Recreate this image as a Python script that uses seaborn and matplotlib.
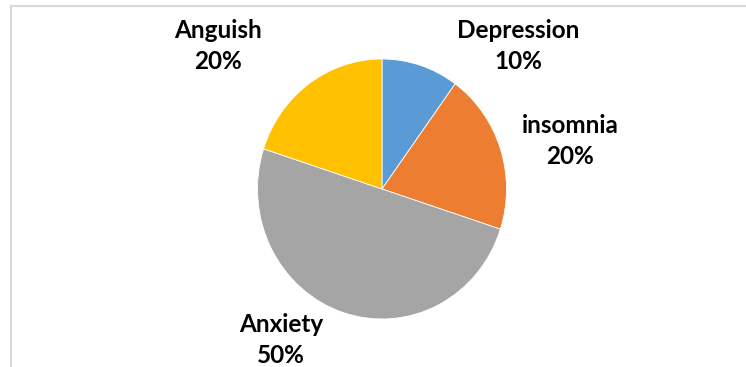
import matplotlib
matplotlib.use("Agg")
import matplotlib.pyplot as plt
import seaborn as sns
from matplotlib.patches import Rectangle

categories = ["Depression", "insomnia", "Anxiety", "Anguish"]
values = [10, 20, 50, 20]
colors = ["#5B9BD5", "#ED7D31", "#A5A5A5", "#FFC000"]

sns.set_theme(style="white")
plt.rcParams["font.family"] = ["Lato", "DejaVu Sans"]

W, H = 746, 367
fig = plt.figure(figsize=(W / 100, H / 100), dpi=100)
fig.patch.set_facecolor("white")

# frame (cropped chart area border)
fig.add_artist(Rectangle((11 / W, -0.1), 1.2, (H - 6) / H + 0.1, transform=fig.transFigure,
                         fill=False, edgecolor="#D9D9D9", linewidth=1.5))

cx, cy = 382, 189
rx, ry = 124.5, 130
ax = fig.add_axes([(cx - rx) / W, (H - cy - ry) / H, 2 * rx / W, 2 * ry / H])
ax.pie(values, colors=colors, startangle=90, counterclock=False,
       wedgeprops=dict(edgecolor="white", linewidth=0.6))
ax.set_aspect("auto")
ax.set_xlim(-1, 1)
ax.set_ylim(-1, 1)
ax.axis("off")

label_pos = {"Depression": (518, 46), "insomnia": (570, 141), "Anxiety": (281, 340), "Anguish": (218, 46)}
total = sum(values)
for cat, v in zip(categories, values):
    px, py = label_pos[cat]
    fig.text(px / W, 1 - py / H, f"{cat}\n{round(100 * v / total)}%", ha="center", va="center",
             fontsize=17.5, fontweight="bold", color="black", linespacing=1.45)

fig.savefig("out.png", dpi=100, facecolor="white")
